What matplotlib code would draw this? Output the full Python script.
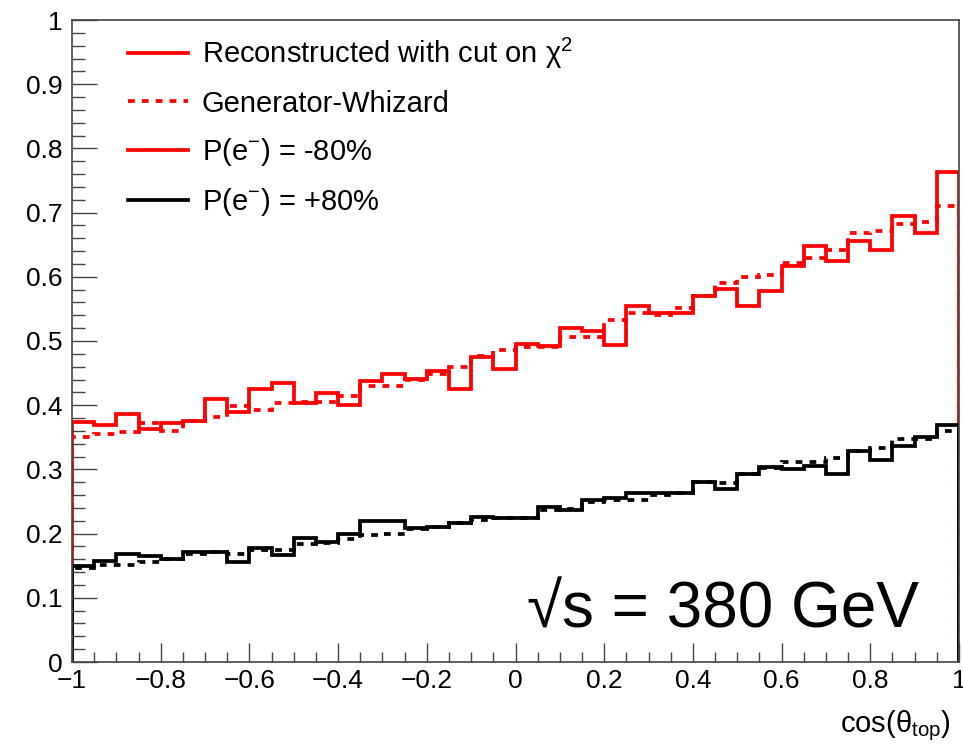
import numpy as np
import matplotlib
matplotlib.use("Agg")
from matplotlib import pyplot as plt
from matplotlib.ticker import MultipleLocator, FuncFormatter
from matplotlib.lines import Line2D

RED = "#ff0000"
BLACK = "#000000"

# 40 bins in cos(theta_top), -1 .. 1
bin_edges = np.linspace(-1.0, 1.0, 41)

# P(e-) = -80%
reco_m80 = [0.374, 0.369, 0.387, 0.363, 0.373, 0.376, 0.409, 0.390, 0.425, 0.435,
            0.404, 0.419, 0.400, 0.437, 0.449, 0.441, 0.454, 0.426, 0.475, 0.457,
            0.496, 0.492, 0.520, 0.515, 0.494, 0.555, 0.543, 0.543, 0.570, 0.581,
            0.555, 0.578, 0.617, 0.648, 0.624, 0.655, 0.642, 0.695, 0.668, 0.764]
gen_m80 = [0.350, 0.355, 0.359, 0.373, 0.360, 0.375, 0.381, 0.398, 0.393, 0.404,
           0.405, 0.405, 0.414, 0.430, 0.430, 0.439, 0.449, 0.460, 0.477, 0.486,
           0.490, 0.490, 0.507, 0.507, 0.533, 0.543, 0.540, 0.551, 0.570, 0.591,
           0.599, 0.603, 0.621, 0.629, 0.641, 0.669, 0.672, 0.683, 0.685, 0.710]

# P(e-) = +80%
reco_p80 = [0.150, 0.158, 0.168, 0.165, 0.160, 0.171, 0.171, 0.155, 0.177, 0.167,
            0.193, 0.187, 0.199, 0.220, 0.220, 0.208, 0.210, 0.216, 0.226, 0.224,
            0.225, 0.241, 0.237, 0.253, 0.256, 0.263, 0.263, 0.263, 0.281, 0.270,
            0.293, 0.303, 0.300, 0.305, 0.293, 0.328, 0.314, 0.336, 0.350, 0.369]
gen_p80 = [0.146, 0.151, 0.151, 0.156, 0.161, 0.169, 0.172, 0.169, 0.174, 0.175,
           0.184, 0.186, 0.191, 0.198, 0.200, 0.207, 0.211, 0.216, 0.221, 0.225,
           0.224, 0.237, 0.239, 0.250, 0.252, 0.253, 0.260, 0.264, 0.281, 0.279,
           0.293, 0.302, 0.312, 0.312, 0.317, 0.328, 0.334, 0.347, 0.348, 0.360]

plt.rcParams['font.family'] = ['Liberation Sans', 'DejaVu Sans']
plt.rcParams['mathtext.fontset'] = 'custom'
plt.rcParams['mathtext.rm'] = 'Liberation Sans'
plt.rcParams['mathtext.it'] = 'Liberation Sans:italic'

W, H = 963, 744
fig = plt.figure(figsize=(W / 100, H / 100), dpi=100)
ax = fig.add_axes([72 / W, 1 - 662 / H, (959 - 72) / W, (662 - 20) / H])

lw = 2.7
dots = (0, (1.8, 1.9))
ax.stairs(reco_m80, bin_edges, baseline=0, color=RED, lw=lw)
ax.stairs(gen_m80, bin_edges, baseline=0, color=RED, lw=lw, linestyle=dots)
ax.stairs(reco_p80, bin_edges, baseline=0, color=BLACK, lw=lw)
ax.stairs(gen_p80, bin_edges, baseline=0, color=BLACK, lw=lw, linestyle=dots)

ax.set_xlim(-1, 1)
ax.set_ylim(0, 1)

ax.xaxis.set_major_locator(MultipleLocator(0.2))
ax.xaxis.set_minor_locator(MultipleLocator(0.05))
ax.yaxis.set_major_locator(MultipleLocator(0.1))
ax.yaxis.set_minor_locator(MultipleLocator(0.02))
fmt = FuncFormatter(lambda v, p: ("%g" % round(v, 2)).replace("-", "\u2212"))
ax.xaxis.set_major_formatter(fmt)
ax.yaxis.set_major_formatter(fmt)

ax.tick_params(axis='both', which='both', direction='in', top=False, right=False,
               color='#444444', width=1.0, labelsize=19)
ax.tick_params(axis='y', which='major', length=18, pad=7)
ax.tick_params(axis='y', which='minor', length=9.5)
ax.tick_params(axis='x', which='major', length=13.5, pad=5)
ax.tick_params(axis='x', which='minor', length=7)
for s in ax.spines.values():
    s.set_linewidth(1.2)
    s.set_color('#444444')

# legend
handles = [Line2D([], [], color=RED, lw=lw),
           Line2D([], [], color=RED, lw=lw, linestyle=dots),
           Line2D([], [], color=RED, lw=lw),
           Line2D([], [], color=BLACK, lw=lw)]
labels = ["Reconstructed with cut on χ$^{2}$",
          "Generator-Whizard",
          "P(e$^{-}$) = -80%",
          "P(e$^{-}$) = +80%"]
ax.legend(handles, labels, loc='upper left', bbox_to_anchor=(128 / W, 1 - 36 / H),
          bbox_transform=fig.transFigure, frameon=False, fontsize=21,
          handlelength=2.07, handletextpad=0.45, labelspacing=0.63,
          borderpad=0, borderaxespad=0)

fig.text(527 / W, 1 - 627 / H, "√s = 380 GeV", fontsize=46, ha='left', va='baseline')
fig.text(840 / W, 1 - 732 / H, "cos(θ$_{\\rm top}$)", fontsize=21, ha='left', va='baseline')

fig.savefig("out.png", dpi=100)
